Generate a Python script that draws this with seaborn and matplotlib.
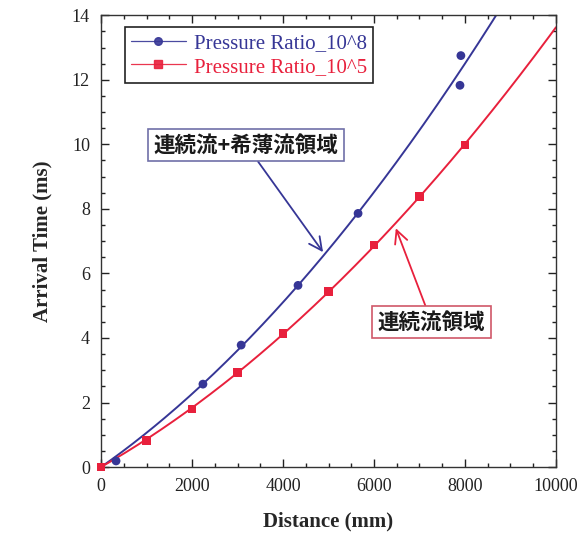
import numpy as np
import pandas as pd
import matplotlib
matplotlib.use("Agg")
import matplotlib.pyplot as plt
from matplotlib.lines import Line2D
from matplotlib.ticker import MultipleLocator
import seaborn as sns

# ---- data ----
dist_1e8 = [330, 2240, 3080, 4330, 5650, 7890, 7910]
time_1e8 = [0.19, 2.57, 3.78, 5.63, 7.86, 11.83, 12.75]
dist_1e5 = [0, 1000, 2000, 3000, 4000, 5000, 6000, 7000, 8000]
time_1e5 = [0.0, 0.82, 1.80, 2.92, 4.13, 5.43, 6.88, 8.39, 9.98]
series_labels = ["Pressure Ratio_10^8", "Pressure Ratio_10^5"]
annot_upper = "連続流+希薄流領域"
annot_lower = "連続流領域"
x_label = "Distance (mm)"
y_label = "Arrival Time (ms)"

blue = "#363696"
red = "#e8203c"

sns.set_style("ticks")
plt.rcParams["font.family"] = ["Liberation Serif", "DejaVu Serif"]
plt.rcParams["xtick.direction"] = "in"
plt.rcParams["ytick.direction"] = "in"
plt.rcParams["xtick.top"] = True
plt.rcParams["ytick.right"] = True

fig = plt.figure(figsize=(5.84, 5.45), dpi=100)
ax = fig.add_axes([0.173, 0.143, 0.779, 0.829])

def fit_curve(x, y, xmax):
    x = np.asarray(x, float) / 1000.0
    y = np.asarray(y, float)
    A = np.vstack([x, x ** 2]).T
    coef, *_ = np.linalg.lstsq(A, y, rcond=None)
    xs = np.linspace(0, xmax / 1000.0, 300)
    return xs * 1000.0, coef[0] * xs + coef[1] * xs ** 2

cx8, cy8 = fit_curve(dist_1e8, time_1e8, 10000)
cx5, cy5 = fit_curve(dist_1e5, time_1e5, 10000)
m8 = cy8 <= 14.5
curves = pd.concat([
    pd.DataFrame({"x": cx8[m8], "y": cy8[m8], "s": series_labels[0]}),
    pd.DataFrame({"x": cx5, "y": cy5, "s": series_labels[1]}),
])
sns.lineplot(data=curves, x="x", y="y", hue="s", palette=[blue, red],
             linewidth=1.4, legend=False, ax=ax, sort=False)

pts = pd.concat([
    pd.DataFrame({"x": dist_1e8, "y": time_1e8, "s": series_labels[0]}),
    pd.DataFrame({"x": dist_1e5, "y": time_1e5, "s": series_labels[1]}),
])
sns.scatterplot(data=pts, x="x", y="y", hue="s", style="s",
                palette=[blue, red], markers=["o", "s"], s=40,
                edgecolor="none", legend=False, ax=ax, zorder=3, clip_on=False)

ax.set_xlim(0, 10000)
ax.set_ylim(0, 14)
ax.xaxis.set_major_locator(MultipleLocator(2000))
ax.xaxis.set_minor_locator(MultipleLocator(500))
ax.yaxis.set_major_locator(MultipleLocator(2))
ax.yaxis.set_minor_locator(MultipleLocator(0.5))
ax.tick_params(which="major", length=6, width=1, labelsize=13, pad=8, colors="#222222")
ax.tick_params(which="minor", length=3, width=1, colors="#222222")
for sp in ax.spines.values():
    sp.set_linewidth(1.0)
    sp.set_color("#333333")

ax.set_xlabel(x_label, fontsize=15, fontweight="bold", labelpad=12)
ax.set_ylabel(y_label, fontsize=15, fontweight="bold", labelpad=14)

handles = [
    Line2D([0], [0], color=blue, marker="o", markersize=5.5, linewidth=0.9, alpha=0.9),
    Line2D([0], [0], color=red, marker="s", markersize=5.5, linewidth=0.9, alpha=0.9),
]
leg = ax.legend(handles, series_labels, loc="upper left",
                bbox_to_anchor=(0.03, 0.997), fontsize=15,
                frameon=True, fancybox=False, framealpha=1,
                edgecolor="#222222", handlelength=2.6, borderpad=0.3,
                labelspacing=0.2, handletextpad=0.4)
leg.get_frame().set_linewidth(1.2)
for t, c in zip(leg.get_texts(), [blue, red]):
    t.set_color(c)

jp = ["Noto Sans CJK JP", "DejaVu Sans"]
ax.annotate(annot_upper, xy=(4880, 6.66), xytext=(3190, 9.98),
            ha="center", va="center", fontsize=15.5, family=jp, fontweight="bold",
            color="#1a1a1a",
            bbox=dict(boxstyle="square,pad=0.25", fc="white", ec="#7070a8", lw=1.2),
            arrowprops=dict(arrowstyle="->,head_length=0.6,head_width=0.3",
                            color=blue, lw=1.3, shrinkA=0, shrinkB=0),
            zorder=5)
ax.annotate(annot_lower, xy=(6480, 7.40), xytext=(7265, 4.5),
            ha="center", va="center", fontsize=15.5, family=jp, fontweight="bold",
            color="#1a1a1a",
            bbox=dict(boxstyle="square,pad=0.25", fc="white", ec="#d05868", lw=1.2),
            arrowprops=dict(arrowstyle="->,head_length=0.6,head_width=0.3",
                            color=red, lw=1.3, shrinkA=0, shrinkB=0),
            zorder=5)

fig.savefig("out.png", dpi=100)
